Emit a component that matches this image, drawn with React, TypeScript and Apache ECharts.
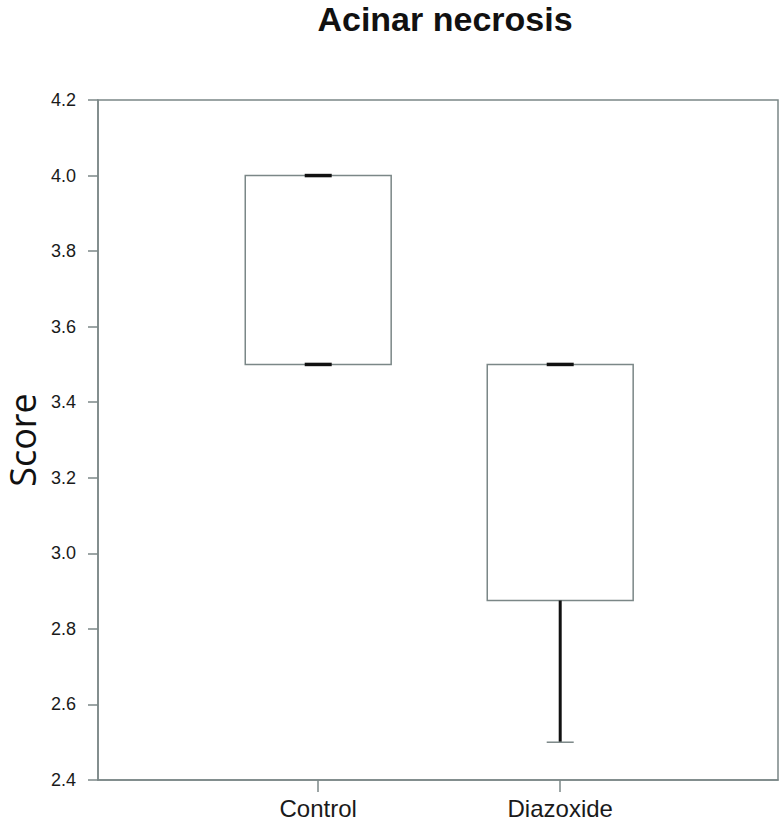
import React, { useEffect, useRef } from "react";
import * as echarts from "echarts";

const categories = ["Control", "Diazoxide"];
const positions = [1, 2];
const minValues = [3.5, 2.5];
const q1Values = [3.5, 2.875];
const q3Values = [4.0, 3.5];
const maxValues = [4.0, 3.5];

const yMin = 2.4;
const yMax = 4.2;
const yStep = 0.2;

const GREY = "#7b8787";
const BLACK = "#111111";

export default function App() {
  const ref = useRef<HTMLDivElement>(null);

  useEffect(() => {
    if (!ref.current) return;
    const chart = echarts.init(ref.current, null, { renderer: "svg" });

    const data = categories.map((c, i) => [
      positions[i],
      minValues[i],
      q1Values[i],
      q3Values[i],
      maxValues[i],
    ]);

    const renderItem = (params: any, api: any) => {
      const x = api.value(0);
      const vmin = api.value(1);
      const vq1 = api.value(2);
      const vq3 = api.value(3);
      const vmax = api.value(4);
      const halfW = api.size([0.3015, 0])[0];
      const capHalf = 13.5;
      const pMin = api.coord([x, vmin]);
      const pQ1 = api.coord([x, vq1]);
      const pQ3 = api.coord([x, vq3]);
      const pMax = api.coord([x, vmax]);
      const cx = pQ1[0];
      const children: any[] = [];
      children.push({
        type: "rect",
        shape: { x: cx - halfW, y: pQ3[1], width: halfW * 2, height: pQ1[1] - pQ3[1] },
        style: { fill: "#fff", stroke: GREY, lineWidth: 1.5 },
      });
      if (vmax > vq3) {
        children.push({
          type: "line",
          shape: { x1: cx, y1: pQ3[1], x2: cx, y2: pMax[1] },
          style: { stroke: BLACK, lineWidth: 3 },
        });
        children.push({
          type: "line",
          shape: { x1: cx - capHalf, y1: pMax[1], x2: cx + capHalf, y2: pMax[1] },
          style: { stroke: GREY, lineWidth: 1.5 },
        });
      } else {
        children.push({
          type: "line",
          shape: { x1: cx - capHalf, y1: pMax[1], x2: cx + capHalf, y2: pMax[1] },
          style: { stroke: BLACK, lineWidth: 3.5 },
        });
      }
      if (vmin < vq1) {
        children.push({
          type: "line",
          shape: { x1: cx, y1: pQ1[1], x2: cx, y2: pMin[1] },
          style: { stroke: BLACK, lineWidth: 3 },
        });
        children.push({
          type: "line",
          shape: { x1: cx - capHalf, y1: pMin[1], x2: cx + capHalf, y2: pMin[1] },
          style: { stroke: GREY, lineWidth: 1.5 },
        });
      } else {
        children.push({
          type: "line",
          shape: { x1: cx - capHalf, y1: pMin[1], x2: cx + capHalf, y2: pMin[1] },
          style: { stroke: BLACK, lineWidth: 3.5 },
        });
      }
      return { type: "group", children };
    };

    chart.setOption({
      animation: false,
      title: {
        text: "Acinar necrosis",
        left: 440,
        textAlign: "center",
        top: 0,
        textStyle: {
          fontFamily: "Liberation Sans, Arial, sans-serif",
          fontWeight: "bold",
          fontSize: 34,
          lineHeight: 28,
          color: "#111",
        },
      },
      grid: {
        left: 98,
        right: 2,
        top: 100,
        bottom: 40,
        containLabel: false,
        outerBoundsMode: "none",
        show: true,
        borderColor: GREY,
        borderWidth: 1.5,
        backgroundColor: "transparent",
      },
      xAxis: {
        type: "value",
        min: 0.09,
        max: 2.9,
        splitLine: { show: false },
        axisLine: { show: true, lineStyle: { color: GREY, width: 1.5 } },
        axisTick: {
          show: true,
          length: 12,
          customValues: positions,
          lineStyle: { color: GREY, width: 1.5 },
        },
        axisLabel: {
          customValues: positions,
          formatter: (v: number) => categories[Math.round(v) - 1] ?? "",
          fontFamily: "Liberation Sans, Arial, sans-serif",
          fontSize: 24,
          color: "#1a1a1a",
          margin: 16,
        },
      },
      yAxis: {
        type: "value",
        min: yMin,
        max: yMax,
        interval: yStep,
        name: "Score",
        nameLocation: "middle",
        nameGap: 55,
        nameRotate: 90,
        nameTextStyle: {
          fontFamily: "Open Sans, Noto Sans, sans-serif",
          fontSize: 36,
          lineHeight: 34,
          color: "#111",
        },
        splitLine: { show: false },
        axisLine: { show: true, lineStyle: { color: GREY, width: 1.5 } },
        axisTick: { show: true, length: 10, lineStyle: { color: GREY, width: 1.5 } },
        axisLabel: {
          formatter: (v: number) => v.toFixed(1),
          fontFamily: "Liberation Sans, Arial, sans-serif",
          fontSize: 18,
          color: "#1a1a1a",
          margin: 22,
        },
      },
      series: [
        {
          type: "custom",
          renderItem,
          data,
          encode: { x: 0, y: [1, 2, 3, 4] },
          clip: false,
        },
      ],
    });

    return () => chart.dispose();
  }, []);

  return (
    <div
      ref={ref}
      style={{ position: "absolute", left: 0, top: 0, width: 780, height: 820 }}
    />
  );
}
